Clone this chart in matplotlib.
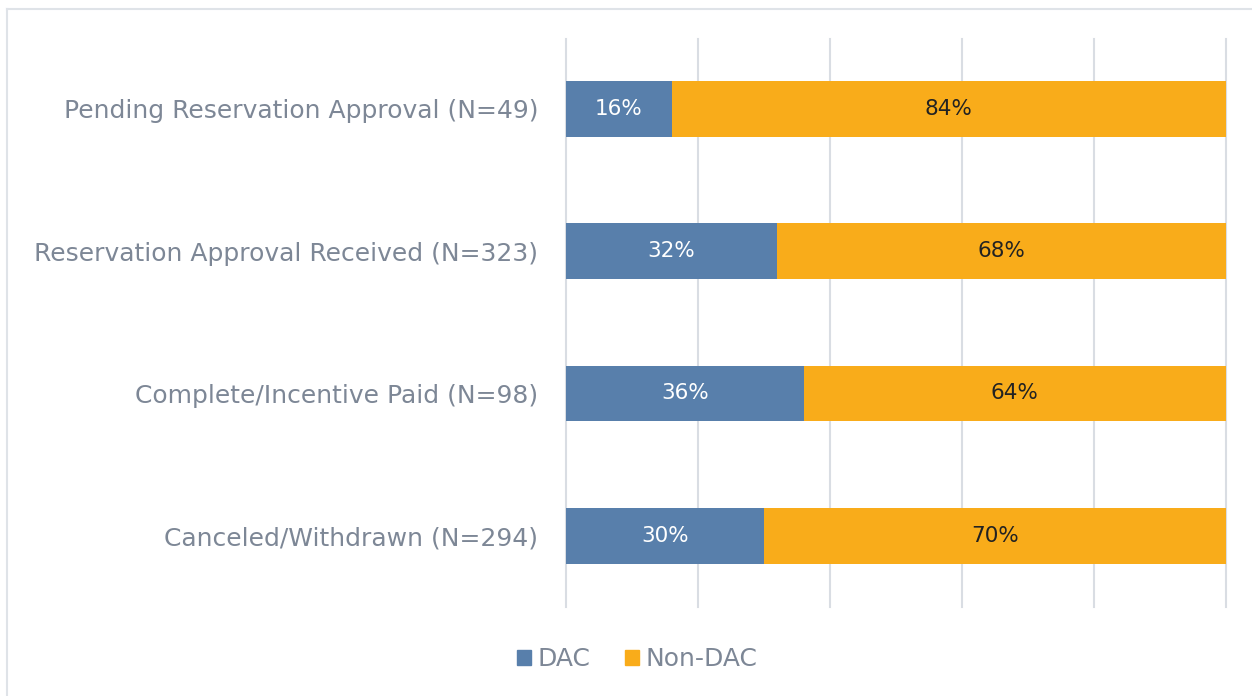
import matplotlib
matplotlib.use("Agg")
import matplotlib.pyplot as plt
from matplotlib.lines import Line2D
from matplotlib.patches import Patch

categories = ["Pending Reservation Approval (N=49)",
              "Reservation Approval Received (N=323)",
              "Complete/Incentive Paid (N=98)",
              "Canceled/Withdrawn (N=294)"]
dac = [16, 32, 36, 30]
non_dac = [84, 68, 64, 70]
series_names = ["DAC", "Non-DAC"]

BLUE = "#587fab"
ORANGE = "#f9ac1a"
GRID = "#d9dde3"
TXT = "#7d8796"

plt.rcParams['font.family'] = ['DejaVu Sans']

fig = plt.figure(figsize=(12.52, 6.96), dpi=100)
ax = fig.add_axes([566/1252, 1-607/696, 660/1252, 568/696])

y = list(range(len(categories)))
ax.barh(y, dac, height=0.39, color=BLUE, zorder=3)
ax.barh(y, non_dac, left=dac, height=0.39, color=ORANGE, zorder=3)
for i in y:
    ax.text(dac[i]/2, i, f"{dac[i]}%", ha="center", va="center",
            fontsize=15.5, color="white", zorder=4)
    ax.text(dac[i] + non_dac[i]/2, i, f"{non_dac[i]}%", ha="center", va="center",
            fontsize=15.5, color="#222222", zorder=4)

ax.set_xlim(0, 100)
ax.set_ylim(len(categories) - 0.5, -0.49)
ax.set_xticks([0, 20, 40, 60, 80, 100])
ax.set_xticklabels([])
ax.grid(axis="x", color=GRID, lw=1.5, zorder=0)
for gl in ax.get_xgridlines():
    gl.set_clip_on(False)
ax.tick_params(length=0)
ax.set_yticks(y)
ax.set_yticklabels(categories, fontsize=18, color=TXT)
ax.tick_params(axis="y", pad=20)
for s in ax.spines.values():
    s.set_visible(False)

handles = [Patch(color=BLUE), Patch(color=ORANGE)]
fig.legend(handles, series_names, loc="center", bbox_to_anchor=(637/1252, 1-659/696),
           ncol=2, frameon=False, fontsize=18, handlelength=0.55, handleheight=0.55,
           handletextpad=0.25, columnspacing=1.4, labelcolor=TXT)

# outer frame (top and left edges visible)
fig.add_artist(Line2D([7/1252, 1], [1-9/696, 1-9/696], color="#dfe3e8", lw=1.5))
fig.add_artist(Line2D([7/1252, 7/1252], [0, 1-9/696], color="#dfe3e8", lw=1.5))

fig.savefig("out.png", dpi=100, facecolor="white")
